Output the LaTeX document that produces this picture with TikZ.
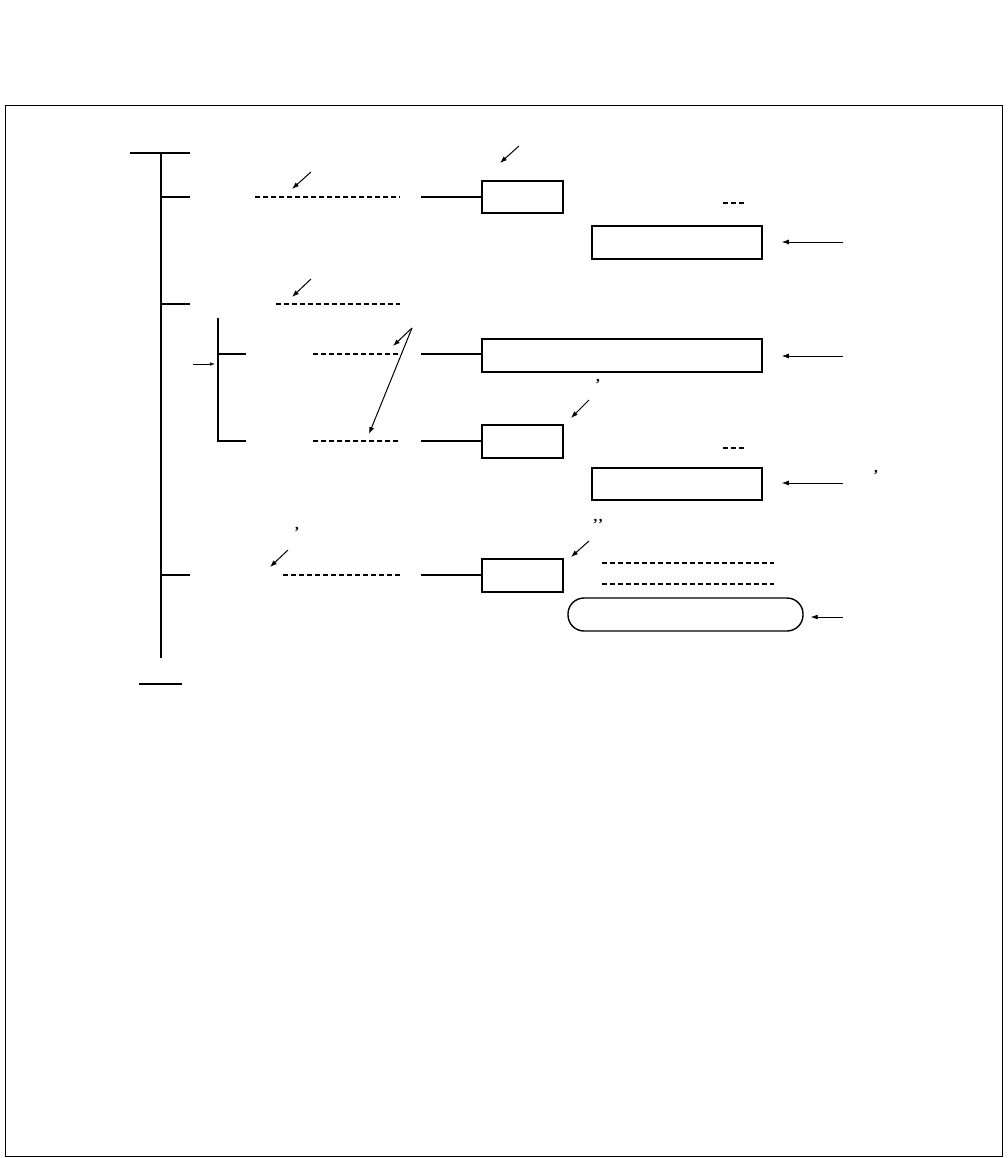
\documentclass[tikz,border=0pt]{standalone}
\usepackage{fontspec}
\setmainfont{Liberation Serif}
\usetikzlibrary{arrows.meta}
\begin{document}
\begin{tikzpicture}[x=1pt,y=-1pt,
  trunk/.style={line width=1.6pt},
  dashln/.style={line width=1.3pt, dash pattern=on 5pt off 3pt},
  boxn/.style={draw, line width=1.6pt, rectangle, inner sep=0pt},
  ptr/.style={line width=1pt, -{Latex[length=7pt,width=5pt]}},
  rptr/.style={line width=0.8pt, -{Latex[length=7pt,width=5pt]}},
  sptr/.style={line width=0.7pt, -{Latex[length=5pt,width=3.5pt]}},
  punct/.style={inner sep=0pt, font=\fontsize{15}{15}\selectfont\bfseries}]
\useasboundingbox (0,0) rectangle (1008,1158);
% frame
\draw[line width=1pt] (5.5,106) rectangle (1002.5,1156);

% boxes
\node[boxn, minimum width=81pt, minimum height=32pt] (b1) at (522.5,197) {};
\node[boxn, minimum width=170pt, minimum height=33pt] (b2) at (677,242.5) {};
\node[boxn, minimum width=280pt, minimum height=33pt] (b3) at (622,355.5) {};
\node[boxn, minimum width=81pt, minimum height=33pt] (b4) at (522.5,441.5) {};
\node[boxn, minimum width=170pt, minimum height=32pt] (b5) at (677,484) {};
\node[boxn, minimum width=81pt, minimum height=33pt] (b6) at (522.5,575.5) {};
\node[boxn, line width=1.4pt, rounded corners=16pt, minimum width=235pt, minimum height=33pt] (b7) at (685.5,614.5) {};

% trunk
\coordinate (tt) at (161,153);
\coordinate (tb) at (161,658);
\coordinate (tl) at (130,153);
\coordinate (tr) at (190,153);
\draw[trunk] (tt) -- (tb);
\draw[trunk] (tl) -- (tr);
\coordinate (bl) at (139,684);
\coordinate (br) at (182,684);
\draw[trunk] (bl) -- (br);

% branches from trunk
\foreach \n/\y in {1/197, 2/304, 3/575} {
  \coordinate (j\n) at (161,\y);
  \coordinate (k\n) at (190,\y);
  \draw[trunk] (j\n) -- (k\n);
}

% sub bracket
\coordinate (s1) at (218,318);
\coordinate (s2) at (218,441);
\coordinate (s3) at (218,354);
\coordinate (s4) at (246,354);
\coordinate (s5) at (246,441);
\draw[trunk] (s1) -- (s2) -- (s5);
\draw[trunk] (s3) -- (s4);
\coordinate (sa) at (193,364);
\coordinate (sb) at (215,364);
\draw[sptr] (sa) -- (sb);

% dashed lines
\coordinate (d1a) at (255,197); \coordinate (d1b) at (400,197);
\coordinate (d2a) at (276,304); \coordinate (d2b) at (400,304);
\coordinate (d3a) at (313,354); \coordinate (d3b) at (398,354);
\coordinate (d4a) at (313,441); \coordinate (d4b) at (398,441);
\coordinate (d5a) at (283,575); \coordinate (d5b) at (400,575);
\coordinate (d6a) at (602,563); \coordinate (d6b) at (774,563);
\coordinate (d7a) at (602,584); \coordinate (d7b) at (774,584);
\coordinate (e1a) at (723,203); \coordinate (e1b) at (745,203);
\coordinate (e2a) at (723,448); \coordinate (e2b) at (745,448);
\foreach \p in {d1,d2,d3,d4,d5,d6,d7,e1,e2}
  \draw[dashln] (\p a) -- (\p b);

% solid connectors to boxes
\coordinate (c1) at (421,197);
\coordinate (c3) at (421,354);
\coordinate (c4) at (421,441);
\coordinate (c6) at (421,575);
\draw[trunk] (c1) -- (c1 -| b1.west);
\draw[trunk] (c3) -- (c3 -| b3.west);
\draw[trunk] (c4) -- (c4 -| b4.west);
\draw[trunk] (c6) -- (c6 -| b6.west);

% diagonal pointers
\coordinate (p1) at (519,146); \coordinate (q1) at (500,163);
\coordinate (p2) at (311,172); \coordinate (q2) at (292,189);
\coordinate (p3) at (311,279); \coordinate (q3) at (292,297);
\coordinate (p4) at (412,328); \coordinate (q4) at (393,346); \coordinate (q4b) at (369,434);
\coordinate (p5) at (589,400); \coordinate (q5) at (571,418);
\coordinate (p6) at (589,541); \coordinate (q6) at (571,557);
\coordinate (p7) at (288,550); \coordinate (q7) at (270,567);
\draw[ptr] (p1) -- (q1);
\draw[ptr] (p2) -- (q2);
\draw[ptr] (p3) -- (q3);
\draw[ptr] (p4) -- (q4);
\draw[ptr] (p4) -- (q4b);
\draw[ptr] (p5) -- (q5);
\draw[ptr] (p6) -- (q6);
\draw[ptr] (p7) -- (q7);

% right pointers to boxes
\coordinate (r2) at (843,242);
\coordinate (r3) at (843,356);
\coordinate (r5) at (843,483);
\coordinate (r7) at (843,617);
\draw[rptr] (r2) -- ([xshift=19pt]r2 -| b2.east);
\draw[rptr] (r3) -- ([xshift=19pt]r3 -| b3.east);
\draw[rptr] (r5) -- ([xshift=19pt]r5 -| b5.east);
\draw[rptr] (r7) -- ([xshift=7pt]r7 -| b7.east);

% stray punctuation
\node[punct] (m1) at (598,382) {,};
\node[punct] (m2) at (876,473) {,};
\node[punct] (m3) at (297,530) {,};
\node[punct] (m4) at (598,522) {,\kern1.5pt,};
\end{tikzpicture}
\end{document}
